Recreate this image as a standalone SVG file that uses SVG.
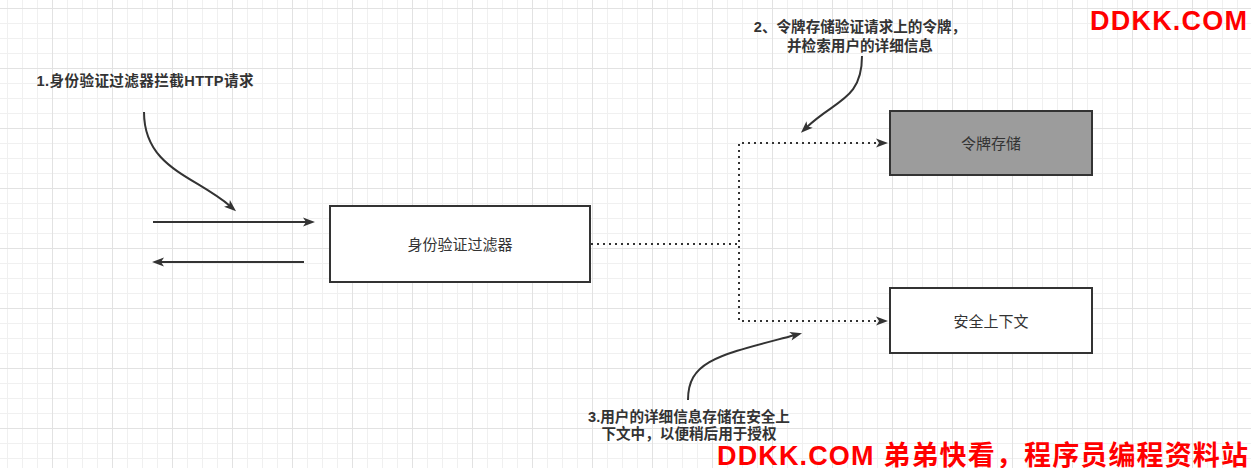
<svg xmlns="http://www.w3.org/2000/svg" width="1251" height="468" viewBox="0 0 1251 468">
  <style>
    .box { stroke: #333333; stroke-width: 2; }
    .lbl { font-family: "Liberation Sans", "Noto Sans CJK SC", sans-serif; font-size: 15px; fill: #333333; text-anchor: middle; }
    .note { font-family: "Liberation Sans", "Noto Sans CJK SC", sans-serif; font-size: 14.6px; font-weight: bold; fill: #333333; text-anchor: middle; }
    .edge { fill: none; stroke: #333333; stroke-width: 2; }
    .dot { stroke-dasharray: 2 4; }
    .wm { font-family: "Liberation Sans", "Noto Sans CJK SC", sans-serif; font-weight: bold; fill: #ff0000; }
  </style>
  <defs>
    <pattern id="grid" patternUnits="userSpaceOnUse" x="52" y="8" width="60" height="60">
      <rect width="60" height="60" fill="#ffffff"/>
      <rect x="15" y="0" width="1" height="60" fill="#f0f0f0"/>
      <rect x="30" y="0" width="1" height="60" fill="#f0f0f0"/>
      <rect x="45" y="0" width="1" height="60" fill="#f0f0f0"/>
      <rect x="0" y="15" width="60" height="1" fill="#f0f0f0"/>
      <rect x="0" y="30" width="60" height="1" fill="#f0f0f0"/>
      <rect x="0" y="45" width="60" height="1" fill="#f0f0f0"/>
      <rect x="0" y="0" width="1" height="60" fill="#e2e2e2"/>
      <rect x="0" y="0" width="60" height="1" fill="#e2e2e2"/>
    </pattern>
    <marker id="arr" markerUnits="userSpaceOnUse" markerWidth="14" markerHeight="10" refX="4" refY="4.5" orient="auto" overflow="visible">
      <path d="M0,0 L12,4.5 L0,9 L3,4.5 Z" fill="#333333"/>
    </marker>
  </defs>
  <rect width="1251" height="468" fill="url(#grid)"/>

  <g id="connectors">
    <path class="edge" d="M153,222 H307" marker-end="url(#arr)"/>
    <path class="edge" d="M304,262 H160" marker-end="url(#arr)"/>
    <path class="edge dot" d="M591,244 H739 V143 H880" marker-end="url(#arr)"/>
    <path class="edge dot" d="M591,244 H739 V321 H880" marker-end="url(#arr)"/>
    <path class="edge" d="M144,112 C144,168 195,176 230,206" marker-end="url(#arr)"/>
    <path class="edge" d="M862,56 C862,100 835,100 806.7,127.3" marker-end="url(#arr)"/>
    <path class="edge" d="M688,400 C688,360 720,355 794.3,335.2" marker-end="url(#arr)"/>
  </g>

  <g id="auth-filter">
    <rect class="box" x="330" y="206" width="260" height="76" fill="#ffffff"/>
    <text class="lbl" x="460" y="249.5">身份验证过滤器</text>
  </g>
  <g id="token-store">
    <rect class="box" x="890" y="111" width="202" height="64" fill="#9c9c9c"/>
    <text class="lbl" x="991" y="148.5">令牌存储</text>
  </g>
  <g id="security-context">
    <rect class="box" x="890" y="288" width="202" height="65" fill="#ffffff"/>
    <text class="lbl" x="991" y="327">安全上下文</text>
  </g>

  <g id="note1">
    <text class="note" x="145" y="86" textLength="217" lengthAdjust="spacing">1.身份验证过滤器拦截HTTP请求</text>
  </g>
  <g id="note2">
    <text class="note" x="860" y="32">2、令牌存储验证请求上的令牌，</text>
    <text class="note" x="860" y="51">并检索用户的详细信息</text>
  </g>
  <g id="note3">
    <text class="note" x="689" y="421.5">3.用户的详细信息存储在安全上</text>
    <text class="note" x="689" y="439">下文中，以便稍后用于授权</text>
  </g>

  <g id="watermarks">
    <text class="wm" x="1090" y="29.5" font-size="27" textLength="157" lengthAdjust="spacing">DDKK.COM</text>
    <text class="wm" x="717" y="464.5" font-size="27" textLength="531" lengthAdjust="spacing">DDKK.COM 弟弟快看，程序员编程资料站</text>
  </g>
</svg>
